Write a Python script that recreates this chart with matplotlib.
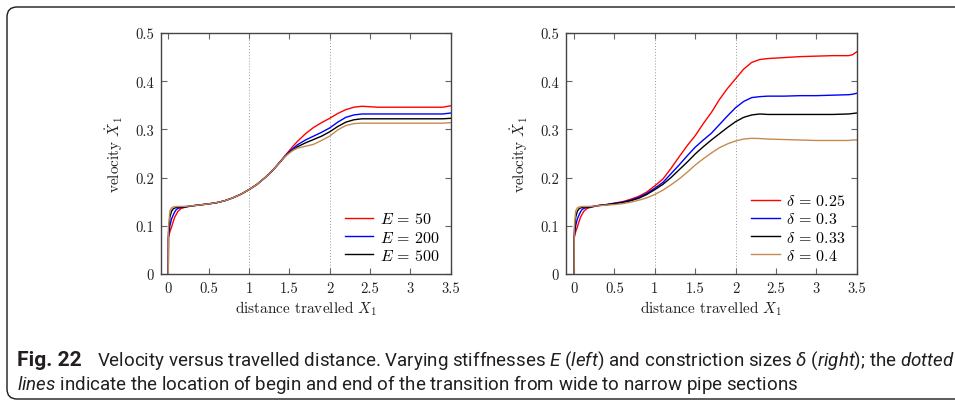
import matplotlib
matplotlib.use("Agg")
import matplotlib.pyplot as plt
from matplotlib.patches import FancyBboxPatch
from matplotlib.ticker import FormatStrFormatter
from matplotlib.transforms import IdentityTransform

plt.rcParams['font.family'] = 'serif'
plt.rcParams['font.serif'] = ['cmr10']
plt.rcParams['mathtext.fontset'] = 'cm'
plt.rcParams['axes.formatter.use_mathtext'] = True
plt.rcParams['axes.unicode_minus'] = False
# fonts for the caption (custom mathtext set used only there)
plt.rcParams['mathtext.rm'] = 'Roboto'
plt.rcParams['mathtext.it'] = 'Roboto:italic'
plt.rcParams['mathtext.bf'] = 'Roboto:bold'

# ---------------- data ----------------
x_left = [0, 0.002, 0.02, 0.04, 0.06, 0.08, 0.1, 0.12, 0.16, 0.22, 0.3, 0.4, 0.5, 0.6,
          0.7, 0.8, 0.9, 1.0, 1.1, 1.2, 1.3, 1.4, 1.45, 1.5, 1.55, 1.6, 1.65, 1.7, 1.8,
          1.9, 2.0, 2.1, 2.2, 2.3, 2.4, 2.6, 2.8, 3.0, 3.2, 3.4, 3.5]
v_E50 = [0, 0.075, 0.088, 0.097, 0.108, 0.118, 0.124, 0.130, 0.136, 0.139, 0.1415, 0.1435,
         0.1455, 0.148, 0.152, 0.158, 0.1655, 0.175, 0.186, 0.200, 0.216, 0.236, 0.246,
         0.256, 0.266, 0.275, 0.283, 0.291, 0.304, 0.314, 0.323, 0.333, 0.341, 0.346,
         0.348, 0.346, 0.346, 0.346, 0.346, 0.346, 0.349]
v_E200 = [0, 0.078, 0.100, 0.114, 0.122, 0.129, 0.134, 0.136, 0.138, 0.1395, 0.1415, 0.1435,
          0.1455, 0.148, 0.152, 0.158, 0.1655, 0.175, 0.186, 0.200, 0.216, 0.235, 0.245,
          0.2535, 0.261, 0.268, 0.273, 0.278, 0.286, 0.294, 0.303, 0.315, 0.325, 0.330,
          0.332, 0.332, 0.332, 0.332, 0.332, 0.332, 0.334]
v_E500 = [0, 0.085, 0.118, 0.130, 0.135, 0.137, 0.138, 0.1385, 0.139, 0.1398, 0.1415, 0.1435,
          0.1455, 0.148, 0.152, 0.158, 0.1655, 0.175, 0.186, 0.200, 0.216, 0.235, 0.2445,
          0.252, 0.258, 0.264, 0.268, 0.272, 0.279, 0.286, 0.295, 0.306, 0.315, 0.320,
          0.322, 0.322, 0.322, 0.322, 0.322, 0.322, 0.323]
v_Ebrown = [0, 0.095, 0.131, 0.137, 0.139, 0.1395, 0.140, 0.140, 0.1402, 0.1405, 0.1415, 0.1435,
            0.1455, 0.148, 0.152, 0.158, 0.1655, 0.175, 0.186, 0.200, 0.216, 0.235, 0.244,
            0.251, 0.257, 0.261, 0.263, 0.265, 0.269, 0.277, 0.286, 0.299, 0.308, 0.312,
            0.313, 0.313, 0.313, 0.313, 0.313, 0.313, 0.314]

x_right = [0, 0.002, 0.02, 0.04, 0.06, 0.08, 0.1, 0.12, 0.16, 0.22, 0.3, 0.4, 0.5, 0.6,
           0.7, 0.8, 0.9, 1.0, 1.1, 1.2, 1.3, 1.4, 1.5, 1.6, 1.7, 1.8, 1.9, 2.0, 2.1,
           2.2, 2.3, 2.4, 2.6, 2.8, 3.0, 3.2, 3.4, 3.45, 3.5]
v_d025 = [0, 0.075, 0.088, 0.097, 0.108, 0.118, 0.124, 0.130, 0.136, 0.139, 0.142, 0.144,
          0.147, 0.150, 0.155, 0.161, 0.170, 0.183, 0.197, 0.219, 0.243, 0.266, 0.287,
          0.312, 0.335, 0.362, 0.385, 0.405, 0.425, 0.439, 0.445, 0.447, 0.449, 0.451,
          0.452, 0.453, 0.453, 0.455, 0.461]
v_d030 = [0, 0.078, 0.100, 0.114, 0.122, 0.129, 0.134, 0.136, 0.138, 0.1395, 0.142, 0.144,
          0.1465, 0.149, 0.153, 0.159, 0.167, 0.178, 0.190, 0.208, 0.226, 0.245, 0.263,
          0.278, 0.292, 0.310, 0.328, 0.345, 0.358, 0.366, 0.368, 0.369, 0.369, 0.370,
          0.370, 0.371, 0.372, 0.373, 0.375]
v_d033 = [0, 0.085, 0.118, 0.130, 0.135, 0.137, 0.138, 0.1385, 0.139, 0.1398, 0.142, 0.1435,
          0.146, 0.148, 0.152, 0.157, 0.165, 0.175, 0.186, 0.200, 0.216, 0.232, 0.249,
          0.264, 0.278, 0.291, 0.304, 0.316, 0.325, 0.330, 0.332, 0.331, 0.331, 0.331,
          0.331, 0.331, 0.332, 0.333, 0.334]
v_d040 = [0, 0.095, 0.131, 0.137, 0.139, 0.1395, 0.140, 0.140, 0.1402, 0.1405, 0.1415, 0.143,
          0.144, 0.146, 0.149, 0.153, 0.158, 0.165, 0.174, 0.185, 0.197, 0.211, 0.226,
          0.239, 0.251, 0.262, 0.270, 0.276, 0.280, 0.2815, 0.281, 0.280, 0.279, 0.278,
          0.277, 0.277, 0.277, 0.278, 0.278]

labels_left = [r'$E \,=\, 50$', r'$E \,=\, 200$', r'$E \,=\, 500$']
labels_right = [r'$\delta \,=\, 0.25$', r'$\delta \,=\, 0.3$', r'$\delta \,=\, 0.33$',
                r'$\delta \,=\, 0.4$']
xticks = [0, 0.5, 1, 1.5, 2, 2.5, 3, 3.5]
yticks = [0, 0.1, 0.2, 0.3, 0.4, 0.5]
transition = [1, 2]

RED, BLUE, BLACK, BROWN = '#ff0000', '#0000ff', '#000000', '#c48a52'

W, H = 955, 406
fig = plt.figure(figsize=(W / 100, H / 100), dpi=100)

ax1 = fig.add_axes([160.7 / W, 131 / H, 290 / W, 241 / H])
ax2 = fig.add_axes([566 / W, 131 / H, 290.7 / W, 241 / H])


def style(ax, xmin):
    ax.set_xlim(xmin, 3.5)
    ax.set_ylim(0, 0.5)
    ax.set_xticks(xticks)
    ax.set_yticks(yticks)
    ax.xaxis.set_major_formatter(FormatStrFormatter('%g'))
    ax.yaxis.set_major_formatter(FormatStrFormatter('%g'))
    ax.tick_params(direction='in', top=True, right=True, length=4, width=0.8,
                   color='#666666', labelsize=10.5, labelcolor='#222222', pad=5)
    for s in ax.spines.values():
        s.set_color('#444444')
        s.set_linewidth(1.0)
    for xv in transition:
        ax.axvline(xv, color='#999999', ls=(0, (1, 2)), lw=0.7, zorder=0)
    ax.set_xlabel(r'distance travelled $X_1$', fontsize=11, color='#222222', labelpad=3)
    ax.set_ylabel(r'velocity $\dot{X}_1$', fontsize=11, color='#222222', labelpad=7)


style(ax1, -0.094)
style(ax2, -0.1)

lw = 1.0
leg_kw = dict(loc='lower right', bbox_to_anchor=(1.0, 0.0), frameon=False, fontsize=11.5,
              handlelength=1.8, handletextpad=0.4, labelspacing=0.2, borderaxespad=0.3)
ax1.plot(x_left, v_E50, color=RED, lw=lw, label=labels_left[0])
ax1.plot(x_left, v_E200, color=BLUE, lw=lw, label=labels_left[1])
ax1.plot(x_left, v_E500, color=BLACK, lw=lw, label=labels_left[2])
ax1.plot(x_left, v_Ebrown, color=BROWN, lw=lw)
ax1.legend(**leg_kw)

ax2.plot(x_right, v_d025, color=RED, lw=lw, label=labels_right[0])
ax2.plot(x_right, v_d030, color=BLUE, lw=lw, label=labels_right[1])
ax2.plot(x_right, v_d033, color=BLACK, lw=lw, label=labels_right[2])
ax2.plot(x_right, v_d040, color=BROWN, lw=lw, label=labels_right[3])
ax2.legend(**leg_kw)

# rounded frame around the whole figure (open to the right)
frame = FancyBboxPatch((7, 6), 1100, 392, boxstyle='round,pad=0,rounding_size=10',
                       transform=IdentityTransform(), fill=False, ec='#1a1a1a', lw=1.0)
fig.patches.append(frame)

# caption
head = 'Fig. 22'
line1 = (r'Velocity versus travelled distance. Varying stiffnesses '
         r'$\mathit{E}$ ($\mathit{left}$) and constriction sizes $\mathit{\delta}$ '
         r'($\mathit{right}$); the $\mathit{dotted}$')
line2 = (r'$\mathit{lines}$ indicate the location of begin and end of the transition '
         r'from wide to narrow pipe sections')
cap_kw = dict(family='Roboto', math_fontfamily='custom', color='#231f20', va='baseline')
fs = 11
y1, y2 = 1 - 366 / H, 1 - 390 / H
t0 = fig.text(17 / W, y1, head, fontsize=fs, fontweight='bold', **cap_kw)
t1 = fig.text(97 / W, y1, line1, fontsize=fs, **cap_kw)
t2 = fig.text(17 / W, y2, line2, fontsize=fs, **cap_kw)
r = fig.canvas.get_renderer()
# fit the body of the first line between x=97 and x=953 px
fs = fs * 856 / t1.get_window_extent(r).width
for t in (t1, t2):
    t.set_fontsize(fs)
t0.set_fontsize(fs * 1.12)

fig.savefig('out.png', dpi=100)
